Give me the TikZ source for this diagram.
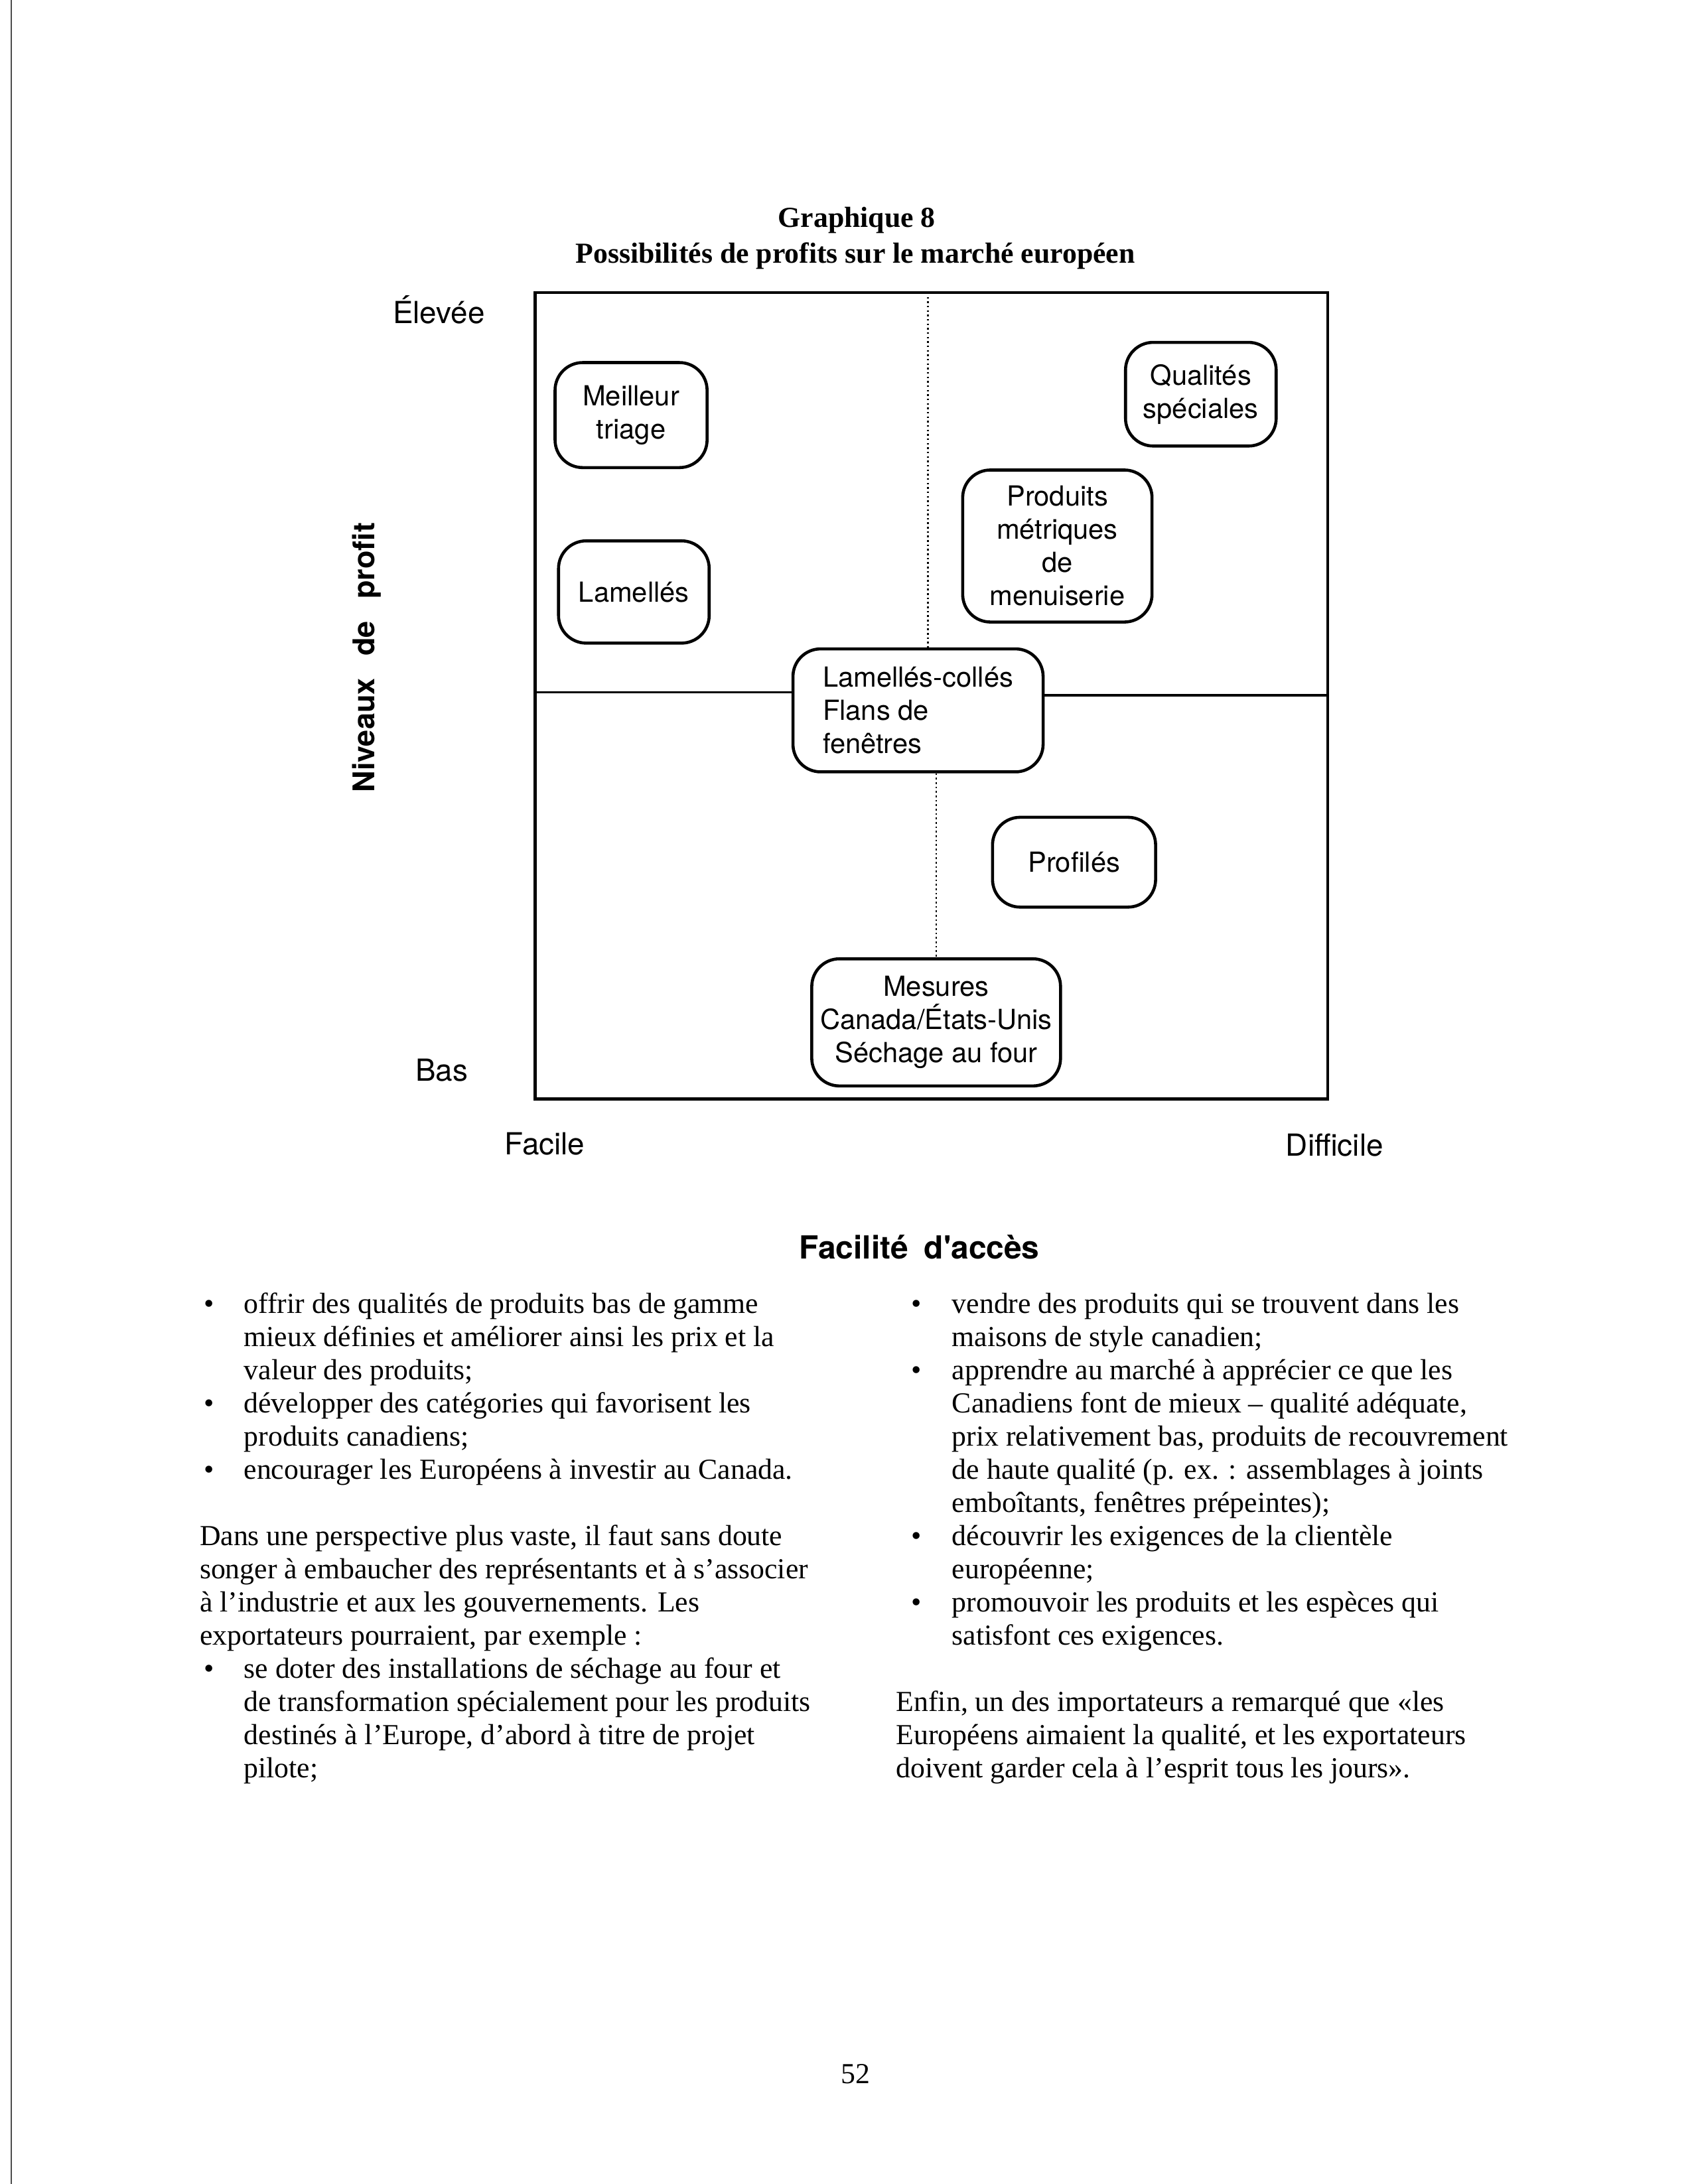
\documentclass[tikz,border=0pt]{standalone}
\usepackage{fontspec}
\setmainfont{Liberation Serif}
\newfontfamily\helv{TeX Gyre Heros}
\usetikzlibrary{positioning}
\newcommand{\puce}[2]{\makebox[#1][l]{\hspace{#2}•}}
\newcommand{\suite}[1]{\hspace*{#1}}

\begin{document}
\begin{tikzpicture}[
  x=0.504pt, y=-0.504pt,
  produit/.style={draw,line width=1.1pt,rounded corners=10pt,inner sep=0pt,align=center,font=\helv\fontsize{10}{12}\selectfont},
  axe/.style={font=\helv\fontsize{11}{13}\selectfont},
  titre/.style={anchor=base,font=\bfseries\fontsize{10.5}{12}\selectfont},
  corps/.style={anchor=north west,inner sep=0pt,align=left,font=\fontsize{10.5}{12}\selectfont},
  cadre/.style={line width=1.1pt},
  partage/.style={line width=0.9pt},
  pointille/.style={line width=0.6pt,densely dotted}]
\useasboundingbox (0,0) rectangle (1216,1568);
\draw[line width=0.5pt,black!70] (8,0) -- (8,1568);
% titre
\node[titre] (graph) at (615,163) {Graphique 8};
\node[titre] (soustitre) at (614,189) {Possibilités de profits sur le marché européen};
% grille
\draw[cadre] (384,210) rectangle (953,789);
\node[axe,anchor=base] (haut) at (315,232) {Élevée};
\node[axe,anchor=base] (bas) at (317,776) {Bas};
\node[axe,anchor=base] (facile) at (391,829) {Facile};
\node[axe,anchor=base] (difficile) at (958,830) {Difficile};
\node[axe,anchor=base,font=\helv\bfseries\fontsize{11.5}{14}\selectfont] (acces) at (660,904) {Facilité\hspace{0.5em}d'accès};
\node[axe,rotate=90,font=\helv\bfseries\fontsize{10.8}{13}\selectfont] (niveau) at (263,472) {Niveaux\hspace{0.75em}de\hspace{0.75em}profit};
\node[produit,minimum width=55pt,minimum height=38pt] (triage) at (453,298) {Meilleur\\triage};
\node[produit,minimum width=54.5pt,minimum height=37pt] (lamelles) at (455,425) {Lamellés};
\node[produit,minimum width=54.5pt,minimum height=37.5pt] (qualites) at (862,283) {Qualités\\spéciales};
\node[produit,minimum width=68.5pt,minimum height=55pt] (metriques) at (759,392) {Produits\\métriques\\de\\menuiserie};
\node[produit,align=left,minimum width=90.5pt,minimum height=44.5pt] (colles) at (659,510) {Lamellés-collés\\Flans de\\fenêtres};
\node[produit,minimum width=59pt,minimum height=32.5pt] (profiles) at (771,619) {Profilés};
\node[produit,minimum width=90pt,minimum height=46pt] (mesures) at (672,734) {Mesures\\Canada/États-Unis\\Séchage au four};
\coordinate (hg) at (384,497);
\coordinate (hd) at (953,499);
\coordinate (vh) at (666,210);
\draw[partage] (hg) -- (hg -| colles.west);
\draw[partage] (colles.east |- hd) -- (hd);
\draw[pointille] (vh) -- (vh |- colles.north);
\draw[pointille] (colles.south -| mesures.north) -- (mesures.north);
% texte
\node[corps] (gauche) at (143,926) {\strut\puce{16pt}{1.5pt}offrir des qualités de produits bas de gamme\\
\suite{16pt}mieux définies et améliorer ainsi les prix et la\\
\suite{16pt}valeur des produits;\\
\puce{16pt}{1.5pt}développer des catégories qui favorisent les\\
\suite{16pt}produits canadiens;\\
\puce{16pt}{1.5pt}encourager les Européens à investir au Canada.\\[12pt]
Dans une perspective plus vaste, il faut sans doute\\
songer à embaucher des représentants et à s’associer\\
à l’industrie et aux les gouvernements. Les\\
exportateurs pourraient, par exemple :\\
\puce{16pt}{1.5pt}se doter des installations de séchage au four et\\
\suite{16pt}de transformation spécialement pour les produits\\
\suite{16pt}destinés à l’Europe, d’abord à titre de projet\\
\suite{16pt}pilote;};
\node[corps] (droite) at (643,926) {\strut\puce{20.2pt}{5.5pt}vendre des produits qui se trouvent dans les\\
\suite{20.2pt}maisons de style canadien;\\
\puce{20.2pt}{5.5pt}apprendre au marché à apprécier ce que les\\
\suite{20.2pt}Canadiens font de mieux – qualité adéquate,\\
\suite{20.2pt}prix relativement bas, produits de recouvrement\\
\suite{20.2pt}de haute qualité (p. ex. : assemblages à joints\\
\suite{20.2pt}emboîtants, fenêtres prépeintes);\\
\puce{20.2pt}{5.5pt}découvrir les exigences de la clientèle\\
\suite{20.2pt}européenne;\\
\puce{20.2pt}{5.5pt}promouvoir les produits et les espèces qui\\
\suite{20.2pt}satisfont ces exigences.\\[12pt]
Enfin, un des importateurs a remarqué que «les\\
Européens aimaient la qualité, et les exportateurs\\
doivent garder cela à l’esprit tous les jours».};
\node[anchor=base,font=\fontsize{10.5}{12}\selectfont] (page) at (614,1496) {52};
\end{tikzpicture}
\end{document}
